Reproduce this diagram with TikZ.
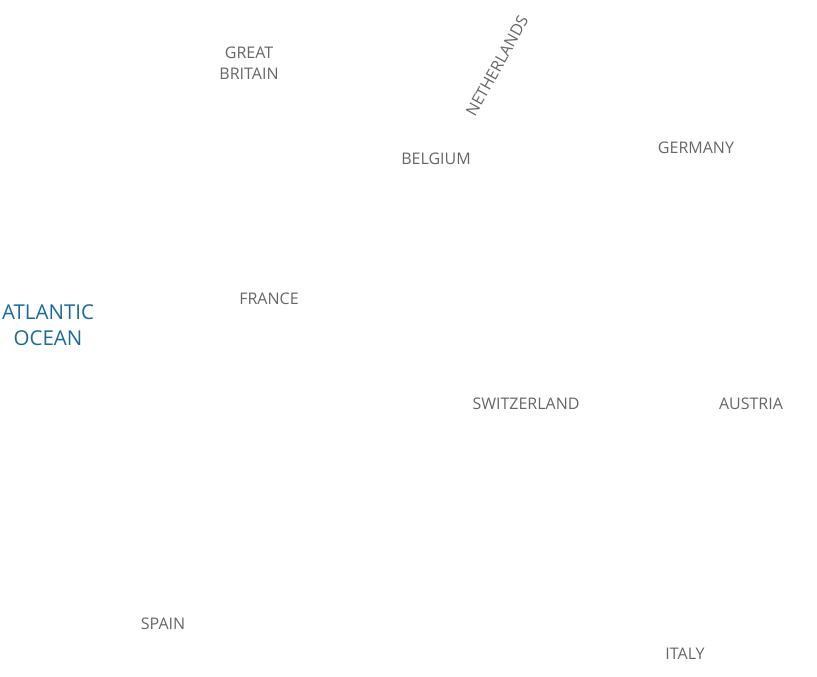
\documentclass[tikz,border=0pt]{standalone}
\usepackage{fontspec}
\setmainfont{Open Sans}
\definecolor{landgray}{HTML}{666666}
\definecolor{seablue}{HTML}{1C6A9C}

\begin{document}
\begin{tikzpicture}[x=1pt, y=-1pt,
    country/.style={text=landgray, font=\fontsize{16}{21}\selectfont, align=center, inner sep=0pt},
    sea/.style={text=seablue, font=\fontsize{20.5}{26}\selectfont, align=center, inner sep=0pt}]
  \useasboundingbox (0,0) rectangle (817,677);
  \node[country] (gb) at (249,63) {GREAT\\BRITAIN};
  \node[country, rotate=61] (nl) at (497,66) {NETHERLANDS};
  \node[country] (be) at (436,159) {BELGIUM};
  \node[country] (de) at (696,148) {GERMANY};

  \node[country] (fr) at (269,299) {FRANCE};
  \node[sea] (ocean) at (48,325) {ATLANTIC\\OCEAN};

  \node[country] (ch) at (526,404) {SWITZERLAND};
  \node[country] (at) at (751,404) {AUSTRIA};

  \node[country] (es) at (163,624) {SPAIN};
  \node[country] (it) at (685,654) {ITALY};
\end{tikzpicture}
\end{document}
